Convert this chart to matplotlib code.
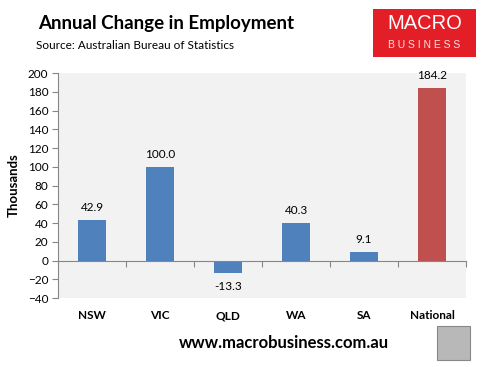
import matplotlib.pyplot as plt
from matplotlib.patches import Rectangle
import matplotlib.transforms as mtransforms

plt.rcParams['font.family'] = ['Lato', 'DejaVu Sans']

regions = ['NSW', 'VIC', 'QLD', 'WA', 'SA', 'National']
change = [42.9, 100.0, -13.3, 40.3, 9.1, 184.2]
colors = ['#4F81BD'] * 5 + ['#C0504D']
yticks = list(range(-40, 201, 20))

fig = plt.figure(figsize=(4.85, 3.67), dpi=100)
ax = fig.add_axes([0.1196, 0.188, 0.8414, 0.613])
ax.set_facecolor('#F2F2F2')

x = list(range(len(regions)))
ax.bar(x, change, width=0.4, color=colors, zorder=2)

for xi, v in zip(x, change):
    if v >= 0:
        ax.annotate(f'{v:.1f}', (xi, v), xytext=(0, 5), textcoords='offset points',
                    ha='center', va='bottom', fontsize=8.5)
    else:
        ax.annotate(f'{v:.1f}', (xi, v), xytext=(0, -6), textcoords='offset points',
                    ha='center', va='top', fontsize=8.5)

ax.set_xlim(-0.5, len(regions) - 0.5)
ax.set_ylim(-40, 200)
ax.set_yticks(yticks)
ax.tick_params(axis='y', labelsize=8.5, length=4, color='#868686', pad=3)

# x axis sits on zero, tick marks between categories
ax.spines['bottom'].set_position(('data', 0))
ax.spines['bottom'].set_color('#868686')
ax.spines['left'].set_color('#868686')
ax.spines['top'].set_visible(False)
ax.spines['right'].set_visible(False)
ax.set_xticks([i + 0.5 for i in x])
ax.set_xticklabels([])
ax.tick_params(axis='x', length=4, color='#868686', direction='out')

trans = mtransforms.blended_transform_factory(ax.transData, ax.transAxes)
for xi, name in zip(x, regions):
    ax.text(xi, -0.055, name, transform=trans, ha='center', va='top',
            fontsize=8.5, fontweight='bold')

ax.set_ylabel('Thousands', fontsize=9.5, fontweight='bold', labelpad=6)

fig.text(0.078, 0.935, 'Annual Change in Employment', fontsize=13.5,
         fontweight='bold', va='center')
fig.text(0.074, 0.877, 'Source: Australian Bureau of Statistics', fontsize=8.5,
         va='center')

# logo box
fig.patches.append(Rectangle((0.769, 0.845), 0.212, 0.131, transform=fig.transFigure,
                             facecolor='#E41E26', edgecolor='none'))
fig.text(0.875, 0.935, 'MACRO', color='white', fontsize=14.5, ha='center',
         va='center', family='Liberation Sans')
fig.text(0.875, 0.878, 'B U S I N E S S', color='#FBE0E0', fontsize=7.5, ha='center',
         va='center', family='Liberation Sans')

fig.text(0.585, 0.065, 'www.macrobusiness.com.au', fontsize=12,
         fontweight='bold', ha='center', va='center')

# wolf picture placeholder
fig.patches.append(Rectangle((0.901, 0.02), 0.068, 0.092, transform=fig.transFigure,
                             facecolor='#B8B8B8', edgecolor='#888888', lw=0.8))

fig.savefig('out.png', dpi=100)
